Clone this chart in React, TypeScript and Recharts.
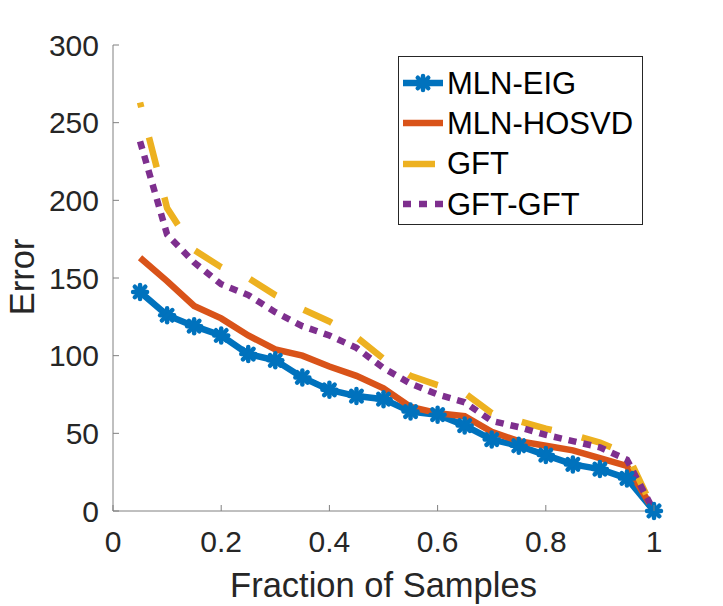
import React from 'react'
import { LineChart, Line, XAxis, YAxis, Legend } from 'recharts'

const fractions = [0.05, 0.1, 0.15, 0.2, 0.25, 0.3, 0.35, 0.4, 0.45, 0.5, 0.55, 0.6, 0.65, 0.7, 0.75, 0.8, 0.85, 0.9, 0.95, 1]
const mlnEig = [141, 126, 119, 113, 101, 97, 86, 78, 74, 72, 64, 62, 55, 46, 42, 36, 30, 27, 21, 0]
const mlnHosvd = [163, 148, 132, 124, 113, 104, 100, 93, 87, 79, 67, 63, 61, 51, 45, 42, 39, 34, 29, 0]
const gft = [263, 195, 168, 157, 150, 139, 130, 122, 112, 98, 87, 81, 76, 63, 58, 53, 49, 44, 37, 0]
const gftGft = [238, 178, 160, 146, 139, 128, 119, 113, 105, 92, 82, 75, 70, 58, 54, 49, 45, 41, 33, 0]

const xTicks = [0, 0.2, 0.4, 0.6, 0.8, 1]
const yTicks = [0, 50, 100, 150, 200, 250, 300]

const data = fractions.map((f, i) => ({
  f,
  eig: mlnEig[i],
  hosvd: mlnHosvd[i],
  gft: gft[i],
  gftgft: gftGft[i],
}))

const FONT = '"Liberation Sans", Arial, Helvetica, sans-serif'
const AXIS = '#808080'
const TEXT = '#262626'

const series = [
  { key: 'eig', name: 'MLN-EIG', color: '#0072BD', dash: undefined, legendDash: undefined, marker: true },
  { key: 'hosvd', name: 'MLN-HOSVD', color: '#D95319', dash: undefined, legendDash: undefined, marker: false },
  { key: 'gft', name: 'GFT', color: '#EDB120', dash: '31 31', legendDash: '32 40', marker: false },
  { key: 'gftgft', name: 'GFT-GFT', color: '#7E2F8E', dash: '8 7', legendDash: '8 8', marker: false },
]

// matlab style '*' marker, drawn thick
const Star = ({ cx, cy, color = '#0072BD' }: any) => {
  if (cx == null || cy == null) return null
  const r = 7
  const d = r * 0.75
  return (
    <g stroke={color} strokeWidth={4.5} strokeLinecap="round">
      <line x1={cx - r} x2={cx + r} y1={cy} y2={cy} />
      <line x1={cx} x2={cx} y1={cy - r} y2={cy + r} />
      <line x1={cx - d} x2={cx + d} y1={cy - d} y2={cy + d} />
      <line x1={cx - d} x2={cx + d} y1={cy + d} y2={cy - d} />
    </g>
  )
}

const BottomTick = ({ x, y, payload }: any) => (
  <g>
    <line x1={x} x2={x} y1={y} y2={y - 6} stroke={AXIS} />
    <text x={x} y={y + 41} textAnchor="middle" fontSize={30} fontFamily={FONT} fill={TEXT}>
      {payload.value}
    </text>
  </g>
)

const TopTick = ({ x, y }: any) => <line x1={x} x2={x} y1={y} y2={y + 6} stroke={AXIS} />

const LeftTick = ({ x, y, payload }: any) => (
  <g>
    <line x1={x} x2={x + 6} y1={y} y2={y} stroke={AXIS} />
    <text x={x - 14} y={y} dy="0.36em" textAnchor="end" fontSize={30} fontFamily={FONT} fill={TEXT}>
      {payload.value}
    </text>
  </g>
)

const RightTick = ({ x, y }: any) => <line x1={x} x2={x - 6} y1={y} y2={y} stroke={AXIS} />

const renderLegend = () => (
  <div
    style={{
      width: 245,
      height: 169,
      boxSizing: 'border-box',
      border: '1px solid #262626',
      background: '#fff',
      paddingTop: 6,
      fontFamily: FONT,
    }}
  >
    {series.map(s => (
      <div key={s.key} style={{ display: 'flex', alignItems: 'center', height: 40.3 }}>
        <svg width={48} height={20} style={{ display: 'block' }}>
          <line x1={4} x2={44} y1={10} y2={10} stroke={s.color} strokeWidth={6.5} strokeDasharray={s.legendDash} />
          {s.marker && <Star cx={24} cy={10} color={s.color} />}
        </svg>
        <span style={{ fontSize: 31, color: '#000', marginLeft: 0, lineHeight: 1 }}>{s.name}</span>
      </div>
    ))}
  </div>
)

export default function App() {
  return (
    <div style={{ position: 'absolute', left: 0, top: 0, width: 723, height: 606, background: '#fff' }}>
      <LineChart width={723} height={606} data={data} margin={{ top: 45, right: 69, bottom: 0, left: 0 }}>
        <XAxis
          xAxisId="b"
          dataKey="f"
          type="number"
          domain={[0, 1]}
          ticks={xTicks}
          height={95}
          stroke={AXIS}
          tickSize={0}
          tickMargin={0}
          tick={BottomTick}
          interval={0}
          label={{
            value: 'Fraction of Samples',
            position: 'insideBottom',
            offset: 9,
            fontSize: 34.5,
            fontFamily: FONT,
            fill: TEXT,
          }}
        />
        <XAxis
          xAxisId="t"
          orientation="top"
          dataKey="f"
          type="number"
          domain={[0, 1]}
          ticks={xTicks}
          height={0}
          stroke={AXIS}
          tickSize={0}
          tickMargin={0}
          tick={TopTick}
          interval={0}
        />
        <YAxis
          yAxisId="l"
          type="number"
          domain={[0, 300]}
          ticks={yTicks}
          width={113}
          stroke={AXIS}
          tickSize={0}
          tickMargin={0}
          tick={LeftTick}
          interval={0}
          label={{
            content: () => (
              <text
                x={34}
                y={277}
                transform="rotate(-90 34 277)"
                textAnchor="middle"
                fontSize={34.5}
                fontFamily={FONT}
                fill={TEXT}
              >
                Error
              </text>
            ),
          }}
        />
        <YAxis
          yAxisId="r"
          orientation="right"
          type="number"
          domain={[0, 300]}
          ticks={yTicks}
          width={0}
          stroke={AXIS}
          tickSize={0}
          tickMargin={0}
          tick={RightTick}
          interval={0}
        />
        <Legend
          layout="vertical"
          align="center"
          verticalAlign="middle"
          content={renderLegend}
          wrapperStyle={{ left: 398, top: 56, width: 245, height: 169 }}
        />
        {series.map(s => (
          <Line
            key={s.key}
            xAxisId="b"
            yAxisId="l"
            dataKey={s.key}
            name={s.name}
            type="linear"
            stroke={s.color}
            strokeWidth={6.5}
            strokeDasharray={s.dash}
            strokeDashoffset={s.key === 'gft' ? 26 : 0}
            strokeLinejoin="miter"
            dot={s.marker ? (p: any) => <Star key={p.index} cx={p.cx} cy={p.cy} color={s.color} /> : false}
            activeDot={false}
            isAnimationActive={false}
          />
        ))}
      </LineChart>
    </div>
  )
}
